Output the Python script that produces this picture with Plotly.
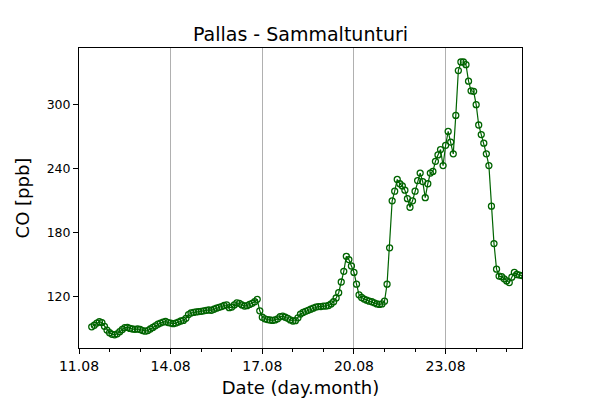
import pandas as pd
import plotly.graph_objects as go

# CO at Pallas, 2-hourly, one list per day (11.08 starts at 10:00, 25.08 ends at 12:00)
co_11 = [92, 93.5, 95.5, 96.8, 96, 92.5, 89]
co_12 = [86.5, 85, 84.5, 85.5, 87.5, 89.5, 91.3, 91.5, 90.5, 90, 89.7, 90]
co_13 = [89.5, 88.5, 88, 88.5, 90, 91.5, 93, 94.5, 95.5, 96.5, 97, 96]
co_14 = [95.5, 95, 95.5, 96.5, 97.5, 98, 100, 103.5, 105, 105.5, 106, 106.3]
co_15 = [106.5, 107, 107.5, 107.8, 107.5, 108.5, 109.5, 110.3, 111, 112, 112.5, 110]
co_16 = [110.5, 112.5, 114.5, 114, 112.5, 111.5, 111.8, 113, 114, 115.5, 117.8, 107]
co_17 = [101, 99.5, 98.8, 98.4, 98, 98.5, 99.5, 101.5, 102, 101, 100, 98.5]
co_18 = [97.5, 97.8, 100.5, 104, 105.5, 106.5, 107.5, 108.5, 109.5, 110.5, 111, 111]
co_19 = [111.5, 111.5, 112, 113.5, 115.5, 119, 124, 134, 144, 158, 155, 149]
co_20 = [143, 132, 122, 119.5, 118, 117, 116, 115.5, 114.5, 113.5, 113, 113.5]
co_21 = [116, 132, 166, 210, 219, 230, 226, 224, 220, 212, 204, 210]
co_22 = [219, 229, 236, 228, 213, 226, 236, 237.5, 247, 253, 258, 243]
co_23 = [262, 275, 265, 254, 290, 332, 340, 340, 337.5, 322, 313, 312.5]
co_24 = [300, 281, 272, 264, 254, 243, 205, 170, 146, 139.5, 139, 137]
co_25 = [135, 133.5, 138.5, 143, 141, 140.5, 140]

co = (co_11 + co_12 + co_13 + co_14 + co_15 + co_16 + co_17 + co_18
      + co_19 + co_20 + co_21 + co_22 + co_23 + co_24 + co_25)
times = pd.date_range('2017-08-11 10:00', periods=len(co), freq='2h')

tick_dates = ['2017-08-11', '2017-08-14', '2017-08-17', '2017-08-20', '2017-08-23']
tick_labels = ['11.08', '14.08', '17.08', '20.08', '23.08']
y_ticks = [120, 180, 240, 300]

FONT = 'DejaVu Sans'

trace = go.Scatter(
    x=times,
    y=co,
    mode='lines+markers',
    line=dict(color='darkgreen', width=1.2),
    marker=dict(symbol='circle-open', size=6, color='darkgreen', line=dict(width=1.3)),
    showlegend=False,
)

# page body has an 8px margin, so the figure is 8px smaller and shifted
layout = go.Layout(
    width=592,
    height=392,
    paper_bgcolor='white',
    plot_bgcolor='white',
    margin=dict(l=71, r=78, t=40, b=52, autoexpand=False),
    font=dict(family=FONT, color='black'),
    title=dict(
        text='Pallas - Sammaltunturi',
        font=dict(size=19, family=FONT, color='black'),
        x=(71 + 514) / 2 / 592, xanchor='center',
        y=0.916, yanchor='bottom', yref='container',
        automargin=False,
    ),
    xaxis=dict(
        type='date',
        range=['2017-08-11 00:00', '2017-08-25 12:00'],
        tickvals=tick_dates,
        ticktext=tick_labels,
        ticks='outside', ticklen=5, tickwidth=1, tickcolor='black',
        tickfont=dict(size=14, family=FONT),
        minor=dict(dtick=86400000, tick0='2017-08-11', ticks='outside',
                   ticklen=3, tickwidth=1, tickcolor='black', showgrid=False),
        showgrid=True, gridcolor='#b0b0b0', gridwidth=1,
        showline=True, linecolor='black', linewidth=1, mirror=True,
        zeroline=False, automargin=False,
        title=dict(text='Date (day.month)', font=dict(size=18, family=FONT), standoff=8),
    ),
    yaxis=dict(
        range=[72.2, 353.1],
        tickvals=y_ticks,
        ticks='outside', ticklen=5, tickwidth=1, tickcolor='black',
        tickfont=dict(size=12.5, family=FONT),
        showgrid=False,
        showline=True, linecolor='black', linewidth=1, mirror=True,
        zeroline=False, automargin=False,
        title=dict(text='CO [ppb]', font=dict(size=18, family=FONT), standoff=12),
    ),
)

fig = go.Figure(data=[trace], layout=layout)
fig.write_html('out.html')
